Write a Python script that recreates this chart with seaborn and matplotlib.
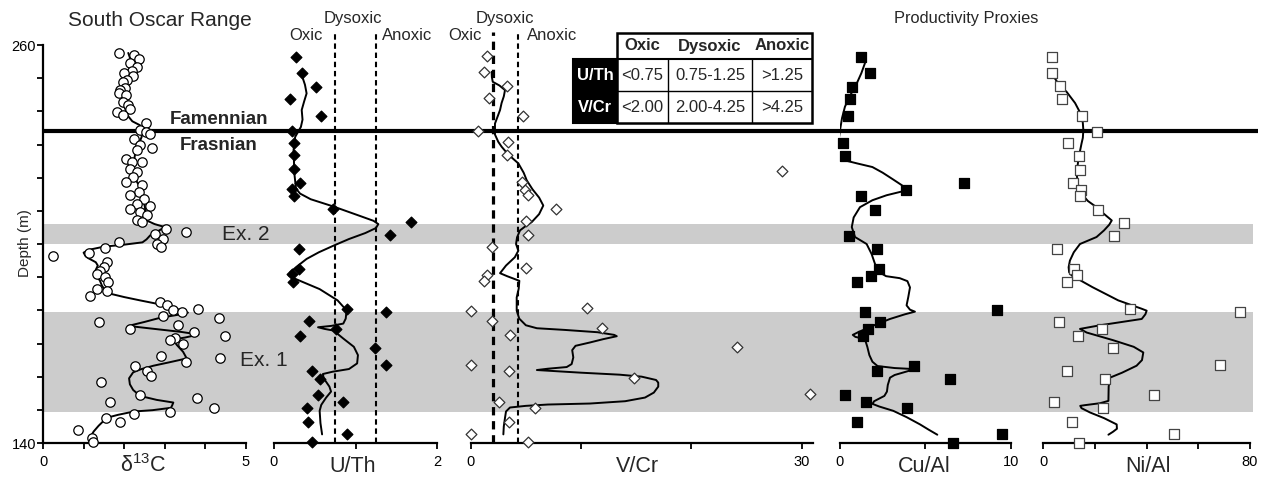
import matplotlib
matplotlib.use("Agg")
import matplotlib.pyplot as plt
from matplotlib.patches import Rectangle
import seaborn as sns

# ---- data (depth in m, value) ----
d13c_depth = [257.7, 257.0, 255.7, 254.5, 253.3, 252.2, 251.7, 250.7, 249.4, 248.9,
              246.9, 246.4, 245.4, 244.9, 242.9, 241.9, 240.6, 239.8, 238.8, 236.5,
              234.5, 233.8, 233.3, 231.8, 229.8, 228.8, 228.3, 225.7, 224.7, 224.7,
              222.7, 221.7, 220.2, 218.7, 217.7, 215.7, 214.7, 213.7, 212.1, 211.6,
              210.6, 209.6, 208.6, 207.1, 206.6, 204.6, 203.6, 203.1, 201.6, 200.1,
              200.5, 199.0, 198.8, 197.2, 196.5, 194.5, 193.2, 192.0, 191.0, 190.0,
              188.4, 186.4, 185.9, 184.4, 182.6, 181.6, 180.5, 180.1, 179.6, 178.4,
              177.6, 176.6, 175.6, 174.4, 173.6, 172.4, 171.6, 171.1, 169.8, 166.3,
              165.5, 164.5, 163.3, 161.8, 160.2, 158.4, 154.5, 153.5, 152.4, 150.7,
              149.4, 148.7, 147.6, 146.3, 143.9, 141.6, 140.3]
d13c_val = [1.88, 2.24, 2.37, 2.14, 2.32, 2.19, 2.00, 2.21, 2.08, 1.96,
            2.03, 1.90, 1.86, 2.04, 1.96, 2.10, 2.14, 1.83, 1.98, 2.54,
            2.39, 2.54, 2.64, 2.24, 2.39, 2.68, 2.31, 2.04, 2.19, 2.43,
            2.14, 2.31, 2.22, 2.04, 2.43, 2.37, 2.15, 2.49, 2.31, 2.64,
            2.15, 2.39, 2.55, 2.31, 2.43, 3.03, 3.52, 2.76, 2.96, 2.80,
            1.86, 2.90, 1.53, 1.14, 0.24, 1.57, 1.50, 1.40, 1.32, 1.53,
            1.61, 1.32, 1.57, 1.16, 2.87, 3.06, 3.83, 3.21, 3.42, 2.96,
            4.33, 1.39, 3.33, 2.14, 3.72, 4.49, 3.25, 3.14, 3.46, 2.90,
            4.36, 3.51, 2.26, 2.55, 2.65, 1.43, 2.39, 3.79, 1.66, 4.20,
            3.13, 2.24, 1.54, 1.90, 0.85, 1.20, 1.24]
d13c_line_depth = [257.6, 255.5, 253.4, 251.5, 249.4, 246.5, 243.4, 241.0, 238.8, 237.0,
                   235.8, 234.0, 232.3, 229.8, 227.3, 224.0, 221.2, 219.0, 217.2, 214.0,
                   211.1, 209.0, 207.1, 206.0, 205.1, 204.0, 202.6, 201.4, 200.5, 199.8,
                   199.2, 198.3, 197.4, 196.3, 195.7, 194.5, 193.5, 192.2, 191.0, 189.0,
                   187.5, 186.0, 185.0, 184.0, 183.0, 182.0, 181.3, 180.2, 179.3, 178.6,
                   177.8, 176.5, 175.3, 174.6, 173.5, 172.7, 171.8, 171.2, 169.5, 167.5,
                   165.5, 164.3, 163.3, 162.2, 161.3, 159.5, 157.7, 156.0, 154.2, 153.0,
                   152.2, 151.3, 150.6, 149.9, 149.5, 148.5, 147.6, 145.2, 143.5, 141.7,
                   140.2]
d13c_line_val = [2.10, 2.16, 2.14, 2.08, 2.04, 2.00, 1.98, 2.02, 2.08, 2.20,
                 2.39, 2.44, 2.43, 2.35, 2.27, 2.23, 2.22, 2.30, 2.39, 2.46,
                 2.51, 2.53, 2.55, 2.75, 3.00, 2.85, 2.64, 2.55, 2.45, 2.00,
                 1.50, 1.15, 1.00, 1.05, 1.12, 1.30, 1.35, 1.30, 1.27, 1.40,
                 1.45, 1.53, 1.66, 2.00, 2.39, 2.80, 3.06, 3.35, 3.57, 3.30,
                 2.90, 2.50, 2.10, 2.60, 3.40, 3.83, 3.50, 3.20, 3.30, 3.45,
                 3.54, 3.10, 2.72, 2.40, 2.22, 2.12, 2.14, 2.22, 2.39, 2.80,
                 3.21, 3.18, 3.15, 2.70, 2.24, 1.85, 1.57, 1.37, 1.25, 1.16,
                 1.24]

uth_depth = [256.5, 251.6, 247.4, 243.7, 238.5, 234.0, 230.5, 226.7, 222.7, 218.5,
             216.5, 214.4, 210.6, 206.6, 202.6, 198.6, 192.5, 191.0, 188.4, 180.4,
             179.4, 176.7, 174.3, 172.3, 168.6, 163.5, 161.8, 159.4, 154.5, 152.4,
             150.7, 146.4, 142.6, 140.3]
uth_val = [0.27, 0.34, 0.52, 0.20, 0.58, 0.22, 0.24, 0.25, 0.24, 0.32,
           0.22, 0.24, 0.73, 1.68, 1.42, 0.31, 0.31, 0.22, 0.23, 0.90,
           1.37, 0.43, 0.76, 0.32, 1.24, 1.37, 0.47, 0.57, 0.54, 0.85,
           0.41, 0.42, 0.90, 0.47]
uth_line_depth = [251.0, 248.0, 245.4, 243.0, 240.4, 237.5, 235.3, 232.3, 228.3, 221.2,
                  216.7, 215.2, 213.5, 211.3, 208.5, 207.0, 206.0, 204.8, 203.3, 201.5,
                  199.5, 197.5, 195.5, 193.0, 191.5, 190.5, 189.3, 186.4, 183.0, 180.0,
                  177.5, 176.0, 175.3, 174.9, 174.4, 173.9, 171.5, 169.0, 166.5, 164.0,
                  162.3, 161.5, 160.8, 159.5, 157.0, 155.5, 153.7, 151.5, 149.7, 146.0,
                  142.6]
uth_line_val = [0.34, 0.38, 0.40, 0.37, 0.34, 0.35, 0.33, 0.26, 0.24, 0.25,
                0.27, 0.32, 0.45, 0.73, 1.05, 1.22, 1.28, 1.25, 1.12, 0.92,
                0.73, 0.55, 0.40, 0.27, 0.20, 0.18, 0.28, 0.56, 0.78, 0.89,
                0.88, 0.85, 0.70, 0.54, 0.62, 0.73, 0.85, 0.98, 1.03, 1.02,
                0.92, 0.72, 0.60, 0.61, 0.68, 0.70, 0.64, 0.58, 0.56, 0.57,
                0.59]

vcr_depth = [256.7, 251.8, 247.6, 243.9, 238.7, 234.0, 230.8, 226.7, 222.0, 218.7,
             216.4, 214.7, 210.6, 206.9, 202.8, 199.0, 192.7, 190.7, 188.8, 179.7,
             180.6, 176.7, 174.7, 172.6, 168.8, 163.6, 161.8, 159.7, 154.7, 152.5,
             150.7, 146.4, 142.8, 140.4]
vcr_val = [1.45, 1.21, 3.32, 1.69, 4.77, 0.69, 3.41, 3.32, 28.2, 4.62,
           4.92, 5.22, 7.73, 5.01, 5.17, 1.96, 5.00, 1.51, 1.24, 0.00,
           10.57, 1.96, 11.93, 3.56, 24.1, 0.00, 3.50, 14.8, 30.8, 2.60,
           5.86, 3.50, 0.00, 5.22]
vcr_line_depth = [251.9, 250.3, 248.9, 247.8, 246.4, 244.5, 242.5, 240.4, 236.3, 233.0,
                  230.8, 229.3, 227.0, 224.3, 221.5, 219.2, 216.5, 214.0, 211.6, 209.0,
                  206.6, 205.2, 204.1, 202.0, 200.0, 198.0, 196.0, 193.5, 191.2, 190.3,
                  188.9, 186.5, 183.9, 179.9, 177.5, 175.5, 174.6, 174.1, 173.4, 172.6,
                  172.2, 171.3, 170.3, 169.3, 168.0, 165.8, 163.8, 162.9, 162.4, 162.0,
                  161.7, 161.2, 160.6, 160.0, 159.0, 158.2, 157.0, 155.2, 153.7, 152.6,
                  151.9, 151.6, 151.2, 150.7, 149.5, 147.6, 145.0, 142.6]
vcr_line_val = [1.90, 1.92, 2.00, 2.60, 3.11, 3.00, 2.80, 2.66, 2.20, 2.20,
                2.50, 2.81, 3.40, 4.32, 4.80, 5.08, 5.60, 6.20, 6.58, 6.20,
                5.53, 4.90, 4.47, 4.20, 4.11, 4.32, 4.00, 3.20, 2.66, 3.30,
                4.41, 4.35, 4.17, 4.17, 4.40, 5.00, 6.00, 8.50, 11.5, 13.0,
                13.24, 12.0, 10.8, 9.50, 9.20, 9.30, 9.15, 8.70, 7.00, 6.00,
                7.50, 10.0, 13.5, 15.5, 16.8, 17.0, 17.0, 16.6, 15.8, 14.0,
                10.8, 7.00, 5.00, 3.56, 3.20, 3.11, 3.00, 2.96]

cual_depth = [256.5, 251.6, 247.4, 243.6, 238.5, 230.5, 226.4, 216.4, 218.4, 214.4,
              210.3, 202.5, 198.6, 192.5, 190.5, 188.4, 179.6, 180.2, 176.4, 174.4,
              172.3, 163.3, 161.6, 159.4, 154.4, 152.4, 150.5, 146.4, 142.6, 140.1]
cual_val = [1.21, 1.76, 0.69, 0.59, 0.49, 0.20, 0.29, 3.87, 7.28, 1.21,
            2.05, 0.55, 2.15, 2.30, 1.82, 1.01, 1.46, 9.18, 2.34, 1.66,
            1.33, 4.34, 2.15, 6.44, 0.29, 1.50, 3.95, 1.01, 9.47, 6.64]
cual_line_depth = [254.5, 251.5, 248.4, 245.0, 241.4, 238.0, 234.3, 230.5, 227.7, 226.0,
                   225.2, 224.3, 223.2, 221.5, 219.5, 217.8, 216.6, 215.8, 214.7, 213.2,
                   211.1, 208.0, 205.1, 202.1, 200.0, 197.0, 194.0, 191.5, 190.3, 189.7,
                   188.8, 186.9, 184.0, 181.5, 180.2, 179.6, 178.8, 177.4, 175.5, 173.5,
                   172.6, 172.0, 171.3, 169.0, 166.5, 164.5, 163.2, 162.6, 162.3, 161.7,
                   160.5, 159.7, 157.5, 155.5, 154.2, 152.6, 151.8, 151.0, 149.7, 147.8,
                   145.6, 144.0, 142.5]
cual_line_val = [1.46, 1.25, 0.98, 0.62, 0.29, 0.12, 0.00, -0.10, -0.12, 0.00,
                 0.30, 1.00, 1.90, 2.50, 3.10, 3.60, 3.90, 3.60, 2.73, 1.90,
                 1.17, 0.80, 0.69, 0.88, 1.56, 1.85, 2.05, 2.30, 2.70, 3.50,
                 3.95, 4.10, 4.00, 3.90, 4.10, 4.39, 3.80, 2.93, 2.00, 1.10,
                 0.75, 0.90, 1.46, 1.60, 1.72, 1.90, 2.20, 3.20, 4.29, 4.00,
                 3.20, 2.93, 2.80, 2.75, 2.60, 2.00, 1.90, 2.30, 3.12, 3.90,
                 4.69, 5.20, 5.70]

nial_depth = [256.5, 251.6, 247.6, 243.6, 238.5, 233.8, 230.5, 226.4, 222.4, 218.4,
              216.4, 214.4, 210.3, 206.4, 202.5, 198.6, 192.5, 190.7, 188.4, 180.4,
              179.4, 176.6, 174.4, 172.3, 168.5, 163.5, 161.8, 159.4, 154.4, 152.4,
              150.7, 146.3, 142.6, 140.1]
nial_val = [3.2, 3.5, 6.5, 7.1, 14.8, 20.9, 9.7, 14.0, 14.2, 11.6,
            14.6, 14.2, 21.3, 31.2, 27.4, 5.2, 11.9, 12.9, 9.3, 33.6,
            76.1, 6.1, 22.6, 13.5, 26.8, 68.4, 9.0, 23.9, 42.8, 4.1,
            23.2, 11.0, 50.6, 13.7]
nial_line_depth = [249.9, 247.8, 245.9, 242.5, 238.8, 236.5, 234.3, 232.0, 230.3, 225.7,
                   221.2, 218.0, 215.2, 213.0, 211.1, 209.0, 207.1, 205.8, 204.1, 202.1,
                   200.0, 197.5, 195.0, 193.0, 191.5, 190.5, 187.0, 183.0, 180.5, 179.9,
                   178.8, 177.4, 175.5, 174.4, 173.3, 171.0, 169.0, 167.3, 165.0, 163.3,
                   161.2, 159.7, 157.0, 152.7, 152.0, 151.4, 151.2, 150.5, 149.2, 147.5,
                   145.6, 144.3, 143.4, 142.5]
nial_line_val = [4.5, 6.3, 9.0, 12.3, 14.8, 15.3, 15.5, 15.3, 14.8, 13.6,
                 12.9, 13.4, 14.8, 17.2, 20.6, 23.6, 26.5, 25.5, 23.5, 20.6,
                 14.2, 11.8, 10.3, 9.8, 10.0, 11.0, 19.0, 29.0, 38.0, 40.0,
                 39.5, 38.1, 22.0, 14.2, 16.8, 27.0, 35.0, 38.7, 38.2, 36.1,
                 30.5, 25.8, 25.3, 25.2, 22.0, 16.0, 14.3, 14.8, 18.1, 23.5,
                 28.4, 28.5, 27.0, 25.2]

boundary_depth = 234.0
ex_bands = [(200.1, 205.9), (149.2, 179.6)]
uth_limits = [0.75, 1.25]
vcr_limits = [2.00, 4.25]

table_cols = ["Oxic", "Dysoxic", "Anoxic"]
table_rows = ["U/Th", "V/Cr"]
table_vals = [["<0.75", "0.75-1.25", ">1.25"],
              ["<2.00", "2.00-4.25", ">4.25"]]

# ---- figure ----
sns.set_theme(style="white")
plt.rcParams["font.family"] = ["Liberation Sans", "DejaVu Sans"]
plt.rcParams["mathtext.fontset"] = "custom"
plt.rcParams["mathtext.rm"] = "Liberation Sans"

W, H = 1267, 483
TOP, BOT = 45, 443
fig = plt.figure(figsize=(W / 100, H / 100), dpi=100)


def box(x0, x1):
    return [x0 / W, 1 - BOT / H, (x1 - x0) / W, (BOT - TOP) / H]


# background: excursion bands and stage boundary
bg = fig.add_axes(box(0, W), zorder=0)
bg.set_xlim(0, W)
bg.set_ylim(140, 260)
bg.axis("off")
for lo, hi in ex_bands:
    bg.axhspan(lo, hi, xmin=42 / W, xmax=1253 / W, color="#cccccc", lw=0)
bg.hlines(boundary_depth, 42, 1258, color="black", lw=3)


def panel(x0, x1, xlim, ticks, labels, depth, val, ldepth, lval,
          marker, s, face, edge):
    ax = fig.add_axes(box(x0, x1), zorder=2)
    ax.patch.set_alpha(0)
    sns.lineplot(x=lval, y=ldepth, sort=False, estimator=None,
                 color="black", lw=1.4, ax=ax, zorder=2)
    sns.scatterplot(x=val, y=depth, marker=marker, s=s, color=face,
                    edgecolor=edge, linewidth=0.9, ax=ax, zorder=3, clip_on=False)
    ax.set_xlim(xlim)
    ax.set_ylim(140, 260)
    for sp in ["top", "right", "left"]:
        ax.spines[sp].set_visible(False)
    ax.spines["bottom"].set_linewidth(1.6)
    ax.spines["bottom"].set_color("black")
    ax.set_xticks(ticks)
    ax.set_xticklabels(labels)
    ax.set_yticks([])
    ax.tick_params(axis="x", bottom=True, direction="out", length=4, width=1.3,
                   pad=5, labelsize=10.5, colors="black")
    ax.set_xlabel("")
    ax.set_ylabel("")
    return ax


ax1 = panel(43, 246, (0, 5), [0, 1, 2, 3, 4, 5], ["0", "", "", "", "", "5"],
            d13c_depth, d13c_val, d13c_line_depth, d13c_line_val,
            "o", 46, "white", "black")
ax1.spines["left"].set_visible(True)
ax1.spines["left"].set_linewidth(1.6)
ax1.spines["left"].set_color("black")
ax1.set_yticks(range(140, 261, 10))
ax1.set_yticklabels(["140"] + [""] * 11 + ["260"])
ax1.tick_params(axis="y", left=True, direction="out", length=4, width=1.3,
                pad=1, labelsize=10.5, colors="black")

ax2 = panel(274, 437, (0, 2), [0, 1, 2], ["0", "", "2"],
            uth_depth, uth_val, uth_line_depth, uth_line_val,
            "D", 30, "black", "black")
for v in uth_limits:
    ax2.axvline(v, ymin=0, ymax=1 + 13 / (BOT - TOP), color="black", lw=1.5,
                ls=(0, (2.6, 1.8)), clip_on=False, zorder=1)

ax3 = panel(470.7, 812.7, (0, 31), [0, 10, 20, 30], ["0", "", "", "30"],
            vcr_depth, vcr_val, vcr_line_depth, vcr_line_val,
            "D", 30, "white", "#333333")
for v, w in zip(vcr_limits, [2.3, 1.5]):
    ax3.axvline(v, ymin=0, ymax=1 + 13 / (BOT - TOP), color="black", lw=w,
                ls=(0, (2.6, 1.8)), clip_on=False, zorder=1)

ax4 = panel(840, 1010.7, (0, 10), [0, 5, 10], ["0", "", "10"],
            cual_depth, cual_val, cual_line_depth, cual_line_val,
            "s", 48, "black", "black")

ax5 = panel(1043.3, 1250, (0, 80), [0, 20, 40, 60, 80], ["0", "", "", "", "80"],
            nial_depth, nial_val, nial_line_depth, nial_line_val,
            "s", 48, "white", "#444444")

# ---- annotation layer in pixel coordinates ----
cv = fig.add_axes([0, 0, 1, 1], zorder=5)
cv.set_xlim(0, W)
cv.set_ylim(H, 0)
cv.axis("off")

cv.text(160, 21, "South Oscar Range", ha="center", va="center", fontsize=15)
cv.text(966, 18, "Productivity Proxies", ha="center", va="center", fontsize=11.8)
for xd, xo, xa in [(353, 306, 407), (505, 465, 552)]:
    cv.text(xd, 18, "Dysoxic", ha="center", va="center", fontsize=12)
    cv.text(xo, 36, "Oxic", ha="center", va="center", fontsize=12)
    cv.text(xa, 36, "Anoxic", ha="center", va="center", fontsize=12)

cv.text(219, 120, "Famennian", ha="center", va="center", fontsize=13.5, fontweight="bold")
cv.text(219, 146, "Frasnian", ha="center", va="center", fontsize=13.5, fontweight="bold")
cv.text(246, 235, "Ex. 2", ha="center", va="center", fontsize=15)
cv.text(264, 360, "Ex. 1", ha="center", va="center", fontsize=15)
cv.text(25, 243, "Depth (m)", ha="center", va="center", rotation=90, fontsize=11)

for xc, lab in [(143, r"δ$^{\mathrm{13}}$C"), (353, "U/Th"), (637, "V/Cr"),
                (924, "Cu/Al"), (1148, "Ni/Al")]:
    cv.text(xc, 466, lab, ha="center", va="center", fontsize=15.5)

# criteria table
col_x = [617, 668, 752, 812]
row_y = [33, 59, 91, 123]
cv.add_patch(Rectangle((573, row_y[1]), col_x[0] - 573, row_y[3] - row_y[1],
                       facecolor="black", edgecolor="black", lw=1.5))
cv.add_patch(Rectangle((col_x[0], row_y[0]), col_x[3] - col_x[0], row_y[3] - row_y[0],
                       facecolor="white", edgecolor="black", lw=1.8))
cv.hlines([row_y[1]], col_x[0], col_x[3], color="black", lw=1.5)
cv.hlines([row_y[2]], col_x[0], col_x[3], color="black", lw=1.0)
cv.vlines(col_x[1:3], row_y[1], row_y[3], color="black", lw=1.0)
for j, name in enumerate(table_cols):
    cv.text((col_x[j] + col_x[j + 1]) / 2, (row_y[0] + row_y[1]) / 2, name,
            ha="center", va="center", fontsize=12, fontweight="bold")
for i, name in enumerate(table_rows):
    yc = (row_y[i + 1] + row_y[i + 2]) / 2
    cv.text(595, yc, name, ha="center", va="center", fontsize=12,
            fontweight="bold", color="white")
    for j, val in enumerate(table_vals[i]):
        cv.text((col_x[j] + col_x[j + 1]) / 2, yc, val, ha="center", va="center",
                fontsize=12)

fig.savefig("out.png", dpi=100)
